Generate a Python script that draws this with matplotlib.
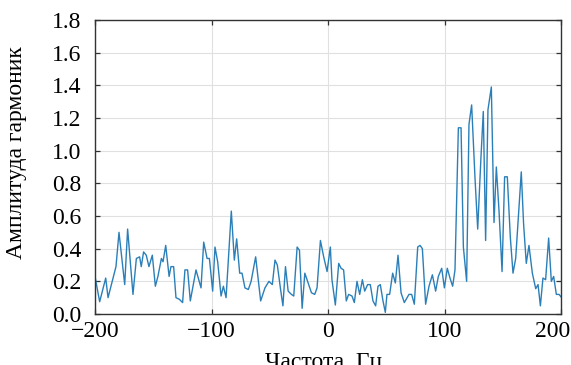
import numpy as np
import matplotlib.pyplot as plt
import matplotlib.transforms as mtransforms

# frequency (Hz) and harmonic amplitude
freq = [-200, -196, -190.8, -188.8, -182, -179.4, -174.5, -172, -167.4, -164.5,
        -161.7, -160.3, -158.3, -156, -153.7, -150.8, -148.2, -146, -143, -141.6,
        -139.3, -136.4, -134.8, -132.5, -130.5, -127.6, -124.8, -122.8, -120.5, -118.2,
        -113.3, -109, -106.7, -103.8, -101.8, -99, -97, -94.7, -91.8, -89.8,
        -87.5, -83, -80.4, -78.4, -75.8, -73.8, -71.3, -68.4, -66, -62.1,
        -57.8, -54.1, -50.7, -47.8, -45.5, -43.5, -40.7, -38.7, -36.5, -34.2,
        -31.4, -29.4, -26.5, -24.5, -22.2, -19.9, -17.1, -14.2, -11.4, -9.4,
        -6.5, -3.7, -0.8, 2, 3.4, 6.3, 9.2, 11.2, 13.4, 15.7,
        17.7, 20.6, 22.6, 24.9, 27.2, 29.5, 31.5, 34, 36.3, 38.6,
        40.9, 42.9, 44.9, 47.2, 49.2, 50.6, 52.9, 55.5, 57.8, 60.1,
        62.7, 65.5, 69.5, 71.8, 74.1, 77, 79, 81, 83.8, 86.7,
        89.6, 92.4, 94.7, 97.6, 99.9, 102.4, 104.7, 107, 109, 111.9,
        114.2, 116.2, 119, 121, 123.3, 126.2, 128.5, 131.3, 133.3, 135.3,
        137.3, 140.2, 142.5, 144.5, 146.8, 149.4, 151.6, 153.9, 156.5, 158.8,
        161.1, 163.4, 165.9, 167.9, 170.2, 172.5, 175.4, 178.3, 180.3, 182.3,
        184.5, 186.8, 189.4, 191.7, 193.7, 196, 198.3, 200.6]
amp = [0.23, 0.075, 0.22, 0.10, 0.29, 0.50, 0.18, 0.52, 0.12, 0.34,
       0.35, 0.29, 0.38, 0.36, 0.29, 0.36, 0.17, 0.23, 0.34, 0.32,
       0.42, 0.23, 0.29, 0.29, 0.10, 0.09, 0.07, 0.27, 0.27, 0.08,
       0.27, 0.16, 0.44, 0.34, 0.34, 0.14, 0.41, 0.32, 0.11, 0.17,
       0.10, 0.63, 0.33, 0.46, 0.25, 0.25, 0.16, 0.15, 0.20, 0.35,
       0.08, 0.16, 0.20, 0.18, 0.33, 0.30, 0.15, 0.05, 0.29, 0.14,
       0.12, 0.11, 0.41, 0.39, 0.035, 0.25, 0.19, 0.13, 0.12, 0.16,
       0.45, 0.35, 0.26, 0.41, 0.21, 0.055, 0.31, 0.28, 0.27, 0.08,
       0.12, 0.11, 0.07, 0.20, 0.12, 0.21, 0.14, 0.18, 0.18, 0.08,
       0.05, 0.17, 0.18, 0.08, 0.01, 0.12, 0.12, 0.25, 0.19, 0.36,
       0.13, 0.07, 0.12, 0.12, 0.06, 0.41, 0.42, 0.40, 0.06, 0.17,
       0.24, 0.14, 0.23, 0.28, 0.16, 0.28, 0.22, 0.17, 0.27, 1.14,
       1.14, 0.41, 0.20, 1.16, 1.28, 0.83, 0.52, 0.96, 1.24, 0.45,
       1.25, 1.39, 0.56, 0.90, 0.63, 0.26, 0.84, 0.84, 0.47, 0.25,
       0.34, 0.59, 0.87, 0.55, 0.31, 0.42, 0.25, 0.155, 0.18, 0.05,
       0.22, 0.21, 0.465, 0.20, 0.23, 0.12, 0.12, 0.10]

xticks = [-200, -100, 0, 100, 200]
yticks = np.arange(0, 1.81, 0.2)

plt.rcParams['font.family'] = 'Liberation Serif'
plt.rcParams['font.size'] = 17

fig = plt.figure(figsize=(5.71, 3.65), dpi=100)
ax = fig.add_axes([95/571, 51/365, 466/571, 294/365])

ax.plot(freq, amp, color='#2b7fb8', lw=1.0)

ax.set_xlim(-200, 200)
ax.set_ylim(0, 1.8)
ax.set_xticks(xticks)
ax.set_xticklabels(['\u2212200', '\u2212100', '0', '100', '200'])
ax.set_yticks(yticks)
ax.set_yticklabels(['%.1f' % v for v in yticks])
ax.grid(True, color='#e0e0e0', lw=0.8)
ax.set_axisbelow(True)
for s in ax.spines.values():
    s.set_color('#333333')
    s.set_linewidth(1.0)
ax.tick_params(direction='in', length=3.5, width=0.9, color='#333333',
               top=True, right=True)
ax.tick_params(axis='x', pad=5)
ax.tick_params(axis='y', pad=10)

# last x label sits a bit to the left in the reference
lab = ax.get_xticklabels()[-1]
lab.set_transform(lab.get_transform() + mtransforms.ScaledTranslation(-8/100, 0, fig.dpi_scale_trans))

ax.set_xlabel('Частота, Гц')
ax.set_ylabel('Амплитуда гармоник')
ax.xaxis.set_label_coords(0.49, -0.128)
ax.yaxis.set_label_coords(-0.145, 0.548)

fig.savefig('out.png', dpi=100)
